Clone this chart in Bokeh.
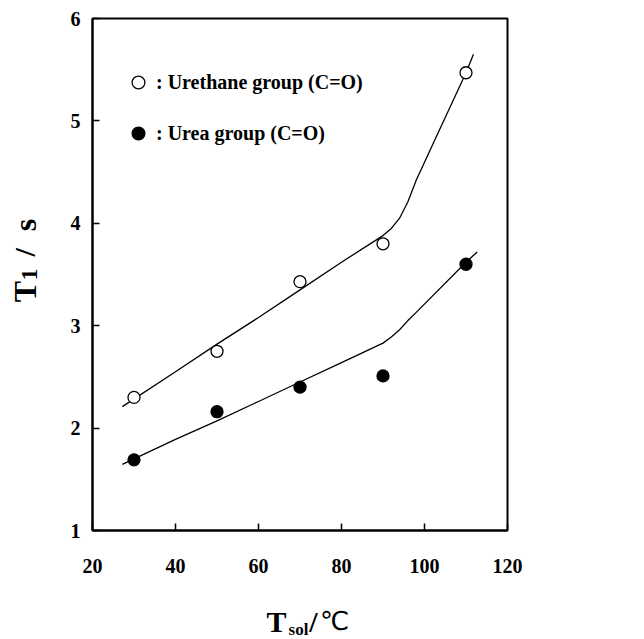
import math
from bokeh.plotting import figure
from bokeh.layouts import column, row
from bokeh.models import Range1d, Label, Legend, LegendItem, FixedTicker
from bokeh.embed import file_html
from bokeh.resources import INLINE

# ---- data ----
temp_c = [30, 50, 70, 90, 110]
urethane_t1 = [2.30, 2.75, 3.43, 3.80, 5.47]
urea_t1 = [1.69, 2.16, 2.40, 2.51, 3.60]

# hand-drawn guide curves
urethane_fit_x = [27.2, 40, 50, 60, 70, 80, 90, 92, 94, 96, 98, 102.2, 110, 111.8]
urethane_fit_y = [2.21, 2.55, 2.82, 3.08, 3.35, 3.62, 3.88, 3.95, 4.05, 4.21, 4.42, 4.79, 5.47, 5.65]
urea_fit_x = [27.2, 30, 40, 50, 60, 70, 80, 90, 92, 94, 96, 98, 110, 112.7]
urea_fit_y = [1.645, 1.70, 1.89, 2.07, 2.26, 2.45, 2.64, 2.83, 2.89, 2.96, 3.05, 3.13, 3.62, 3.72]

x_ticks = [20, 40, 60, 80, 100, 120]
y_ticks = [1, 2, 3, 4, 5, 6]
legend_labels = [": Urethane group (C=O)", ": Urea group (C=O)"]

X0, X1, Y0, Y1 = 20, 120, 1, 6
W, H = 644, 639
LEFT_W = 50          # strip holding the y-axis title
BOTTOM_H = 39        # strip holding the x-axis title
MAIN_H = H - BOTTOM_H
FL, FR, FT, FB = 92, 507, 18, 530   # frame in page pixels

SERIF = "Liberation Serif"


def strip(width, height):
    """A helper canvas whose data coordinates equal its pixels (y downward)."""
    f = figure(width=width, height=height, output_backend="svg", toolbar_location=None,
               x_range=Range1d(0, width), y_range=Range1d(height, 0),
               x_axis_location=None, y_axis_location=None,
               min_border_left=0, min_border_right=0, min_border_top=0, min_border_bottom=0)
    f.outline_line_color = None
    f.grid.visible = False
    f.background_fill_color = "white"
    f.border_fill_color = "white"
    return f


# ---- main plot ----
p = figure(width=W - LEFT_W, height=MAIN_H, output_backend="svg", toolbar_location=None,
           x_range=Range1d(X0, X1), y_range=Range1d(Y0, Y1),
           min_border_left=FL - LEFT_W, min_border_right=W - FR,
           min_border_top=FT, min_border_bottom=MAIN_H - FB)
p.background_fill_color = "white"
p.border_fill_color = "white"
p.outline_line_color = "black"
p.outline_line_width = 2
p.grid.visible = False

for ax, ticks in ((p.xaxis[0], x_ticks), (p.yaxis[0], y_ticks)):
    ax.ticker = FixedTicker(ticks=ticks)
    ax.axis_line_color = "black"
    ax.axis_line_width = 2
    ax.major_tick_in = 7
    ax.major_tick_out = 0
    ax.major_tick_line_width = 1.5
    ax.minor_tick_line_color = None
    ax.major_label_text_font = SERIF
    ax.major_label_text_font_style = "bold"
    ax.major_label_text_font_size = "20px"
    ax.major_label_text_color = "black"
p.xaxis[0].major_label_standoff = 28
p.yaxis[0].major_label_standoff = 12

p.line(urethane_fit_x, urethane_fit_y, line_color="black", line_width=1.3)
p.line(urea_fit_x, urea_fit_y, line_color="black", line_width=1.3)

r_open = p.scatter(temp_c, urethane_t1, marker="circle", size=12,
                   fill_color="white", line_color="black", line_width=1.3)
r_fill = p.scatter(temp_c, urea_t1, marker="circle", size=12,
                   fill_color="black", line_color="black", line_width=1.3)

legend = Legend(items=[LegendItem(label=legend_labels[0], renderers=[r_open]),
                       LegendItem(label=legend_labels[1], renderers=[r_fill])],
                location=(30, 381), padding=0, margin=0, spacing=19,
                glyph_width=32, glyph_height=32, label_standoff=2,
                label_text_font=SERIF, label_text_font_style="bold",
                label_text_font_size="20px", label_text_color="black",
                border_line_alpha=0, background_fill_alpha=0)
p.add_layout(legend)

# ---- y-axis title  T1 / s  (rotated, reads upward) ----
ys = strip(LEFT_W, MAIN_H)
up = math.pi / 2
for txt, cx, cy, size in (("T", 24, 320, "32px"), ("1", 29, 300, "24px"),
                          ("/", 24, 274, "30px"), ("s", 24, 242, "32px")):
    ys.add_layout(Label(x=cx, y=cy, text=txt, angle=up,
                        text_font=SERIF, text_font_style="bold", text_font_size=size,
                        text_color="black", text_align="center", text_baseline="middle"))

# ---- x-axis title  Tsol / ℃ ----
xs = strip(W, BOTTOM_H)
for txt, cx, cy, size, font, style in (("T", 276, 621, "30px", SERIF, "bold"),
                                       ("sol", 298, 629, "17px", SERIF, "bold"),
                                       ("/", 313, 621, "30px", SERIF, "bold"),
                                       ("\u2103", 334, 620, "26px", "DejaVu Sans", "normal")):
    xs.add_layout(Label(x=cx, y=cy - MAIN_H, text=txt,
                        text_font=font, text_font_style=style, text_font_size=size,
                        text_color="black", text_align="center", text_baseline="middle"))

layout = column(row(ys, p, spacing=0), xs, spacing=0)
open("out.html", "w").write(file_html(layout, INLINE))
